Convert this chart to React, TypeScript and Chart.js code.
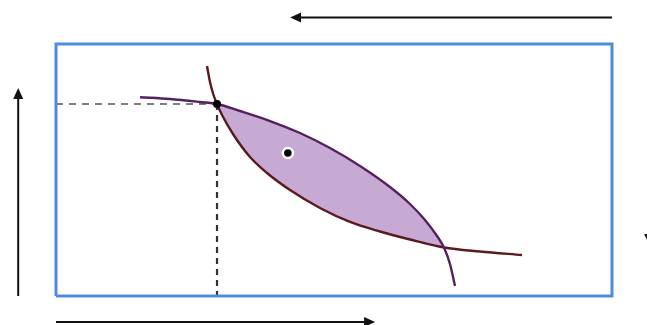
import React, { useEffect, useRef } from "react";
import { Chart, registerables } from "chart.js";

Chart.register(...registerables);

// Box coordinates: 0..100 on both axes (Edgeworth box)
const boxCorners = [
  { x: 0, y: 0 }, { x: 100, y: 0 }, { x: 100, y: 100 }, { x: 0, y: 100 }, { x: 0, y: 0 },
];

// Purple indifference curve (concave toward lower-left)
const purpleX = [15.11, 20.5, 25.9, 28.96, 33.09, 38.49, 43.88, 49.28, 54.68, 60.07, 63.67, 66.37, 68.53, 69.78, 70.86, 71.76];
const purpleY = [78.85, 78.17, 76.98, 76.19, 73.41, 69.44, 64.68, 58.73, 51.59, 43.25, 36.51, 30.16, 23.81, 19.25, 12.7, 3.97];

// Maroon indifference curve (convex toward lower-left)
const maroonX = [27.16, 27.7, 28.33, 28.96, 29.86, 31.83, 34.89, 37.95, 42.09, 47.48, 52.88, 58.27, 63.67, 69.78, 76.26, 83.81];
const maroonY = [91.27, 84.92, 79.76, 76.19, 71.83, 64.29, 55.16, 48.81, 42.06, 34.92, 29.37, 25.6, 22.42, 19.25, 17.66, 16.27];

// Endowment point and interior allocation
const endowment = { x: 28.96, y: 76.19 };
const interior = { x: 41.7, y: 56.7 };

// Arrows: [fromX, fromY, toX, toY]
const arrows: number[][] = [
  [100, 110.5, 42.1, 110.5],
  [-6.8, 0, -6.8, 82.5],
  [0, -10.3, 57.4, -10.3],
  [106.5, 26, 106.5, 21.4],
];

const xMin = -56 / 5.56;
const xMax = (647 - 56) / 5.56;
const yMax = 296 / 2.52;
const yMin = -(325 - 296) / 2.52;

const toPts = (xs: number[], ys: number[]) => xs.map((x, i) => ({ x, y: ys[i] }));

const purplePts = toPts(purpleX, purpleY);
const maroonPts = toPts(maroonX, maroonY);
// lens between endowment (index 3) and second crossing (index 13)
const lensUpper = purplePts.slice(3, 14);
const lensLower = maroonPts.slice(3, 14);

const overlayPlugin = {
  id: "overlay",
  afterDatasetsDraw(chart: any) {
    const { ctx, scales } = chart;
    const sx = (v: number) => scales.x.getPixelForValue(v);
    const sy = (v: number) => scales.y.getPixelForValue(v);
    ctx.save();
    ctx.strokeStyle = "#111";
    ctx.fillStyle = "#111";
    ctx.lineWidth = 2;
    arrows.forEach(([x1, y1, x2, y2], i) => {
      const px1 = sx(x1), py1 = sy(y1), px2 = sx(x2), py2 = sy(y2);
      const ang = Math.atan2(py2 - py1, px2 - px1);
      const head = i === 3 ? 8 : 11;
      const hw = i === 3 ? 4 : 5;
      if (i !== 3) {
        ctx.beginPath();
        ctx.moveTo(px1, py1);
        ctx.lineTo(px2 - Math.cos(ang) * head * 0.8, py2 - Math.sin(ang) * head * 0.8);
        ctx.stroke();
      }
      ctx.beginPath();
      ctx.moveTo(px2, py2);
      ctx.lineTo(px2 - head * Math.cos(ang) + hw * Math.sin(ang), py2 - head * Math.sin(ang) - hw * Math.cos(ang));
      ctx.lineTo(px2 - head * Math.cos(ang) - hw * Math.sin(ang), py2 - head * Math.sin(ang) + hw * Math.cos(ang));
      ctx.closePath();
      ctx.fill();
    });
    ctx.restore();
  },
};

export default function App() {
  const ref = useRef<HTMLCanvasElement>(null);
  useEffect(() => {
    document.body.style.margin = "0";
    const chart = new Chart(ref.current!, {
      type: "scatter",
      data: {
        datasets: [
          {
            data: lensUpper,
            showLine: true,
            cubicInterpolationMode: "monotone",
            borderWidth: 0,
            pointRadius: 0,
            backgroundColor: "#c6aad4",
            borderColor: "rgba(0,0,0,0)",
            fill: "+1",
            order: 6,
          } as any,
          {
            data: lensLower,
            showLine: true,
            cubicInterpolationMode: "monotone",
            borderWidth: 0,
            pointRadius: 0,
            borderColor: "rgba(0,0,0,0)",
            fill: false,
            order: 6,
          } as any,
          {
            data: [{ x: 0, y: endowment.y }, endowment],
            showLine: true,
            borderColor: "#555",
            borderWidth: 1.6,
            borderDash: [7, 6],
            pointRadius: 0,
            order: 4,
          },
          {
            data: [endowment, { x: endowment.x, y: 0 }],
            showLine: true,
            borderColor: "#333",
            borderWidth: 2.2,
            borderDash: [6, 5],
            pointRadius: 0,
            order: 4,
          },
          {
            data: purplePts,
            showLine: true,
            cubicInterpolationMode: "monotone",
            borderColor: "#55205f",
            borderWidth: 2.4,
            pointRadius: 0,
            order: 3,
          } as any,
          {
            data: maroonPts,
            showLine: true,
            cubicInterpolationMode: "monotone",
            borderColor: "#5a1a1e",
            borderWidth: 2.4,
            pointRadius: 0,
            order: 3,
          } as any,
          {
            data: boxCorners,
            showLine: true,
            tension: 0,
            borderColor: "#4a8fd8",
            borderWidth: 3,
            pointRadius: 0,
            order: 2,
          },
          {
            data: [endowment],
            pointRadius: 4,
            pointBackgroundColor: "#000",
            pointBorderWidth: 0,
            order: 1,
          },
          {
            data: [interior],
            pointRadius: 5,
            pointBackgroundColor: "#000",
            pointBorderColor: "#fff",
            pointBorderWidth: 2.5,
            order: 1,
          },
        ],
      },
      options: {
        animation: false,
        responsive: false,
        maintainAspectRatio: false,
        layout: { padding: 0, autoPadding: false },
        plugins: { legend: { display: false }, tooltip: { enabled: false } },
        scales: {
          x: { type: "linear", min: xMin, max: xMax, display: false },
          y: { type: "linear", min: yMin, max: yMax, display: false },
        },
      },
      plugins: [overlayPlugin],
    });
    return () => chart.destroy();
  }, []);
  return (
    <div style={{ width: 647, height: 325, background: "#fff" }}>
      <canvas ref={ref} width={647} height={325} />
    </div>
  );
}
